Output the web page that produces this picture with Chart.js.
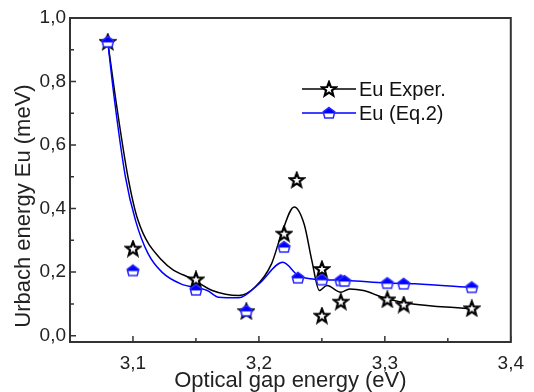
<!DOCTYPE html>
<html lang="en">
<head>
<meta charset="UTF-8">
<title>Urbach energy vs optical gap energy</title>
<script src="https://cdn.jsdelivr.net/npm/chart.js"></script>
<style>
  html, body { margin: 0; padding: 0; background: #fff; }
</style>
</head>
<body>
<canvas id="chart" width="534" height="392"></canvas>
<script>
const expX = [3.08, 3.10, 3.15, 3.19, 3.22, 3.23, 3.25, 3.25, 3.265, 3.302, 3.315, 3.369];
const expY = [0.925, 0.274, 0.177, 0.077, 0.321, 0.49, 0.21, 0.063, 0.107, 0.114, 0.098, 0.086];
const eqX = [3.08, 3.10, 3.15, 3.19, 3.22, 3.231, 3.25, 3.265, 3.268, 3.302, 3.315, 3.369];
const eqY = [0.925, 0.205, 0.144, 0.078, 0.279, 0.182, 0.176, 0.174, 0.172, 0.165, 0.163, 0.152];

// fitted curves
const expFitX = [3.08, 3.086, 3.096, 3.104, 3.123, 3.149, 3.163, 3.184, 3.197, 3.21, 3.218, 3.228, 3.236, 3.242, 3.248, 3.254, 3.265, 3.272, 3.283, 3.298, 3.317, 3.37];
const expFitY = [0.925, 0.752, 0.50, 0.363, 0.237, 0.174, 0.142, 0.126, 0.153, 0.226, 0.321, 0.405, 0.35, 0.237, 0.142, 0.158, 0.137, 0.147, 0.142, 0.121, 0.103, 0.084];
const eqFitX = [3.08, 3.085, 3.094, 3.102, 3.112, 3.123, 3.138, 3.159, 3.168, 3.184, 3.20, 3.219, 3.231, 3.241, 3.252, 3.27, 3.301, 3.324, 3.37];
const eqFitY = [0.925, 0.752, 0.50, 0.363, 0.258, 0.20, 0.163, 0.142, 0.121, 0.119, 0.163, 0.231, 0.19, 0.179, 0.176, 0.174, 0.166, 0.163, 0.151];

// axis ticks
const xTicks = [3.1, 3.2, 3.3, 3.4];
const xMinor = [3.15, 3.25, 3.35];
const yTicks = [0, 0.2, 0.4, 0.6, 0.8, 1.0];
const yMinor = [0.1, 0.3, 0.5, 0.7, 0.9];

const FONT = 'Liberation Sans, Arial, sans-serif';
const fmt = v => v.toFixed(1).replace('.', ',');
const pts = (xs, ys) => xs.map((x, i) => ({ x: x, y: ys[i] }));

// hollow five-pointed star marker
function starMarker() {
  const c = document.createElement('canvas');
  c.width = c.height = 18;
  const g = c.getContext('2d');
  g.translate(9, 9.5);
  g.beginPath();
  for (let i = 0; i < 10; i++) {
    const r = i % 2 ? 3.1 : 7.3;
    const a = -Math.PI / 2 + i * Math.PI / 5;
    g.lineTo(r * Math.cos(a), r * Math.sin(a));
  }
  g.closePath();
  g.fillStyle = '#fff';
  g.fill();
  g.lineWidth = 2.2;
  g.strokeStyle = '#000';
  g.stroke();
  return c;
}

// pentagon marker, top half filled
function pentMarker() {
  const c = document.createElement('canvas');
  c.width = c.height = 16;
  const g = c.getContext('2d');
  g.translate(8, 8);
  const shape = () => {
    g.beginPath();
    g.moveTo(0, -5.5);
    g.lineTo(5.8, -1.2);
    g.lineTo(4.2, 5);
    g.lineTo(-4.2, 5);
    g.lineTo(-5.8, -1.2);
    g.closePath();
  };
  shape();
  g.fillStyle = '#fff';
  g.fill();
  g.save();
  g.beginPath();
  g.rect(-8, -8, 16, 8.5);
  g.clip();
  shape();
  g.fillStyle = '#0000ff';
  g.fill();
  g.restore();
  shape();
  g.lineWidth = 1.5;
  g.strokeStyle = '#2a2aff';
  g.stroke();
  return c;
}

const star = starMarker();
const pent = pentMarker();

const framePlugin = {
  id: 'frame',
  afterDraw(chart) {
    const { ctx, chartArea: a, scales: { x, y } } = chart;
    ctx.save();
    ctx.strokeStyle = '#333';
    ctx.lineWidth = 1.5;
    ctx.beginPath();
    yTicks.forEach(v => { const p = y.getPixelForValue(v); ctx.moveTo(a.left, p); ctx.lineTo(a.left + 6, p); });
    yMinor.forEach(v => { const p = y.getPixelForValue(v); ctx.moveTo(a.left, p); ctx.lineTo(a.left + 4, p); });
    xTicks.forEach(v => { const p = x.getPixelForValue(v); ctx.moveTo(p, a.bottom); ctx.lineTo(p, a.bottom - 6); });
    xMinor.forEach(v => { const p = x.getPixelForValue(v); ctx.moveTo(p, a.bottom); ctx.lineTo(p, a.bottom - 4); });
    ctx.stroke();
    ctx.lineWidth = 2;
    ctx.strokeRect(a.left, a.top, a.right - a.left, a.bottom - a.top);

    // y axis title
    ctx.fillStyle = '#222';
    ctx.font = '22px ' + FONT;
    ctx.textAlign = 'center';
    ctx.textBaseline = 'middle';
    ctx.translate(24, 206);
    ctx.rotate(-Math.PI / 2);
    ctx.fillText('Urbach energy Eu (meV)', 0, 0);
    ctx.restore();

    // legend
    ctx.save();
    ctx.font = '20px ' + FONT;
    ctx.textBaseline = 'middle';
    ctx.fillStyle = '#111';
    const rows = [['Eu Exper.', '#000', star, 89], ['Eu (Eq.2)', '#0000ff', pent, 113]];
    rows.forEach(r => {
      ctx.strokeStyle = r[1];
      ctx.lineWidth = 1.5;
      ctx.beginPath();
      ctx.moveTo(302, r[3]);
      ctx.lineTo(356, r[3]);
      ctx.stroke();
      ctx.drawImage(r[2], 329 - r[2].width / 2, r[3] - r[2].height / 2);
      ctx.fillText(r[0], 359, r[3] + 1);
    });
    ctx.restore();
  }
};

new Chart(document.getElementById('chart'), {
  type: 'scatter',
  data: {
    datasets: [
      { label: 'Eu Exper. fit', data: pts(expFitX, expFitY), showLine: true, borderColor: '#000', borderWidth: 1.5,
        pointRadius: 0, cubicInterpolationMode: 'monotone', order: 4 },
      { label: 'Eu (Eq.2) fit', data: pts(eqFitX, eqFitY), showLine: true, borderColor: '#0000ff', borderWidth: 1.5,
        pointRadius: 0, cubicInterpolationMode: 'monotone', order: 3 },
      { label: 'Eu Exper.', data: pts(expX, expY), pointStyle: star, pointRadius: 7, order: 2 },
      { label: 'Eu (Eq.2)', data: pts(eqX, eqY), pointStyle: pent, pointRadius: 6, order: 1 }
    ]
  },
  options: {
    responsive: false,
    animation: false,
    layout: { padding: { top: 18, right: 20, left: 0, bottom: 0 } },
    plugins: { legend: { display: false }, tooltip: { enabled: false } },
    scales: {
      x: {
        type: 'linear', min: 3.05, max: 3.4,
        afterBuildTicks: s => { s.ticks = xTicks.map(v => ({ value: v })); },
        afterFit: s => { s.height = 50; },
        grid: { display: false, drawTicks: false },
        border: { display: false },
        ticks: { padding: 10, color: '#222', autoSkip: false, maxRotation: 0,
                 font: { family: FONT, size: 19 }, callback: v => fmt(v) },
        title: { display: true, text: 'Optical gap energy (eV)', color: '#222',
                 font: { family: FONT, size: 22, lineHeight: 1 }, padding: { top: 0, bottom: 0 } }
      },
      y: {
        type: 'linear', min: -0.02, max: 1.0,
        afterBuildTicks: s => { s.ticks = yTicks.map(v => ({ value: v })); },
        afterFit: s => { s.width = 70; },
        grid: { display: false, drawTicks: false },
        border: { display: false },
        ticks: { padding: 4, color: '#222', autoSkip: false,
                 font: { family: FONT, size: 19 }, callback: v => fmt(v) }
      }
    }
  },
  plugins: [framePlugin]
});
</script>
</body>
</html>
